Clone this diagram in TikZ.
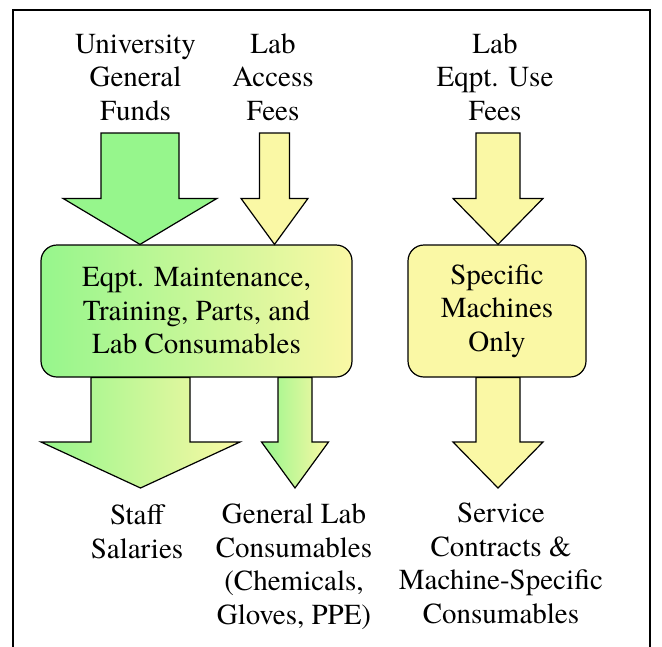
\documentclass[tikz,border=0pt]{standalone}
\usepackage{fontspec}
\setmainfont{texgyretermes}[Extension=.otf, UprightFont=*-regular, BoldFont=*-bold]
\usetikzlibrary{calc}

\definecolor{fundgreen}{RGB}{150,246,140}
\definecolor{feeyellow}{RGB}{250,248,165}

\tikzset{
	label text/.style={inner sep=0pt, align=center, anchor=base, font=\rmfamily\fontsize{29}{33.5}\selectfont},
	fund box/.style={draw, line width=1.2pt, rounded corners=16pt, inner sep=0pt, align=center, minimum height=132pt, font=\rmfamily\fontsize{29}{33.5}\selectfont},
	green flow/.style={draw, line width=1.2pt, fill=fundgreen},
	yellow flow/.style={draw, line width=1.2pt, fill=feeyellow},
	mixed flow/.style={draw, line width=1.2pt, left color=fundgreen, right color=feeyellow}
}

\newcommand{\flowarrow}[5][]{%
	\path[#1] ($(#2)+(-#4,0)$) -- ($(#2)+(#4,0)$) -- ($(#3)+(#4,-46)$) -- ($(#3)+(#5,-46)$) -- (#3)
		-- ($(#3)+(-#5,-46)$) -- ($(#3)+(-#4,-46)$) -- cycle;
}

\begin{document}
\begin{tikzpicture}[x=1pt, y=-1pt, line join=miter]
				\useasboundingbox (0,0) rectangle (662,646);
				\draw[line width=2pt] (13,650) -- (13,10) -- (650,10) -- (650,650);
				
				\node[label text] (funds) at (135.5,120) {University\\General\\Funds};
				\node[label text] (access) at (273,120) {Lab\\Access\\Fees};
				\node[label text] (usefees) at (495,120) {Lab\\Eqpt. Use\\Fees};
				
				\node[fund box, minimum width=311pt, left color=fundgreen, right color=feeyellow] (maint) at (196.5,311) {Eqpt. Maintenance,\\Training, Parts, and\\Lab Consumables};
				\node[fund box, minimum width=178pt, fill=feeyellow] (machines) at (497,311) {Specific\\Machines\\Only};
				
				\node[label text] (salaries) at (137,558) {Staff\\Salaries};
				\node[label text] (labcons) at (294,624) {General Lab\\Consumables\\(Chemicals,\\Gloves, PPE)};
				\node[label text] (service) at (501,623) {Service\\Contracts \&\\Machine-Specific\\Consumables};
				
				\coordinate (fundsTop) at (140,133);
				\coordinate (accessTop) at (274.5,133);
				\coordinate (useTop) at (498,133);
				\coordinate (fundsTip) at (maint.north -| fundsTop);
				\coordinate (accessTip) at (maint.north -| accessTop);
				\coordinate (useTip) at (machines.north -| useTop);
				
				\coordinate (staffTip) at (140.5,488);
				\coordinate (consTip) at (295,488);
				\coordinate (serviceTip) at (498,488);
				\coordinate (staffTop) at (maint.south -| staffTip);
				\coordinate (consTop) at (maint.south -| consTip);
				\coordinate (serviceTop) at (machines.south -| serviceTip);
				
				\flowarrow[green flow]{fundsTop}{fundsTip}{39}{77}
				\flowarrow[yellow flow]{accessTop}{accessTip}{15}{33.5}
				\flowarrow[yellow flow]{useTop}{useTip}{22}{45}
				\flowarrow[mixed flow]{staffTop}{staffTip}{49.5}{99.5}
				\flowarrow[mixed flow]{consTop}{consTip}{17}{33.5}
				\flowarrow[yellow flow]{serviceTop}{serviceTip}{22}{45}
\end{tikzpicture}
\end{document}
